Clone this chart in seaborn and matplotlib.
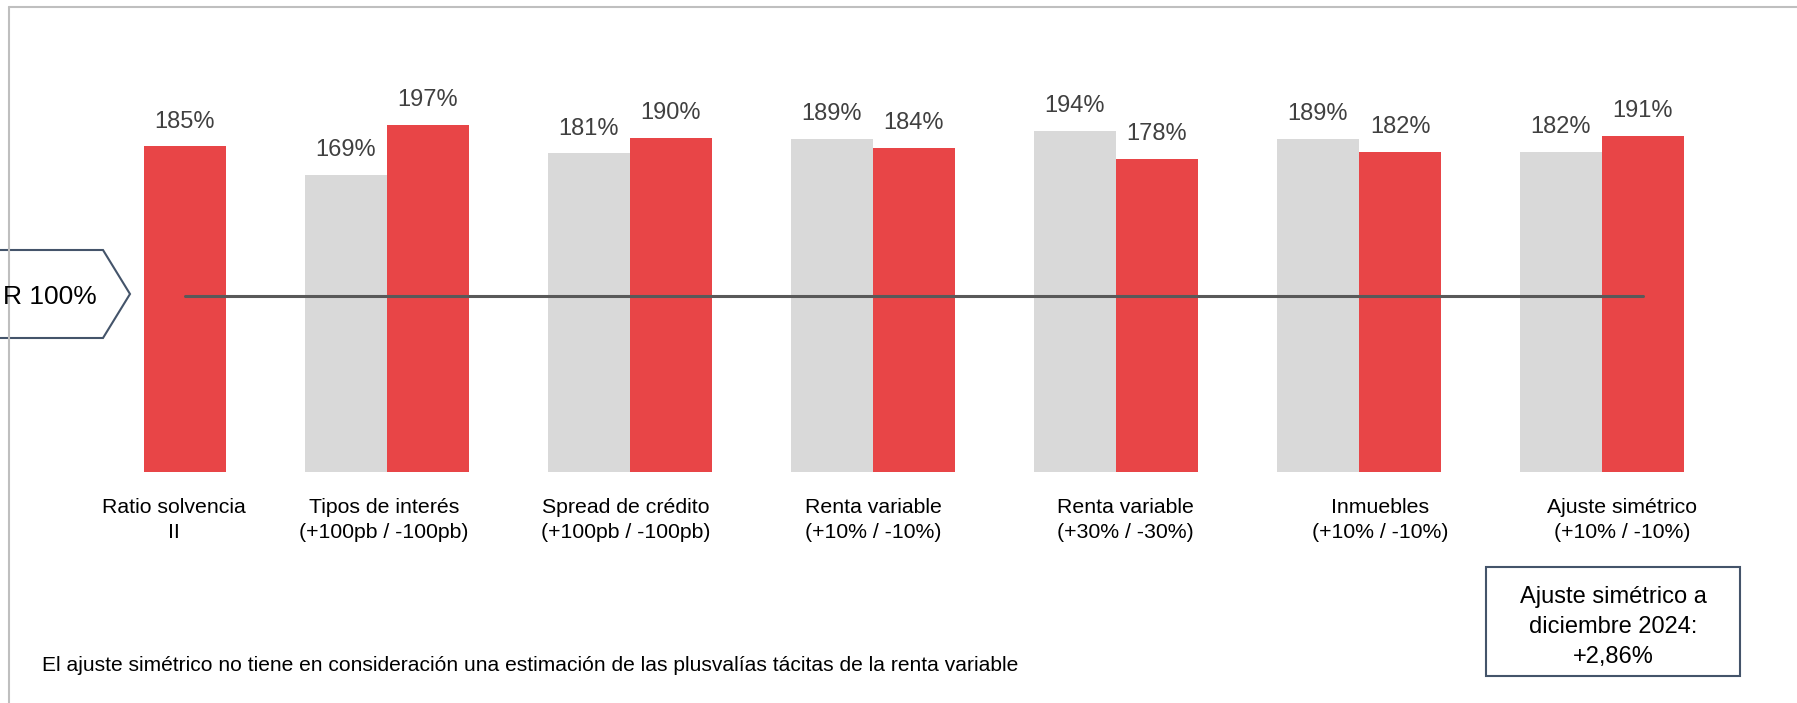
import matplotlib
matplotlib.use("Agg")
import matplotlib.pyplot as plt
import seaborn as sns
import pandas as pd
from matplotlib.patches import Polygon, Rectangle
from matplotlib.lines import Line2D

# Datos (ratio de solvencia II y sensibilidades)
categorias = [
    "Ratio solvencia\nII",
    "Tipos de interés\n(+100pb / -100pb)",
    "Spread de crédito\n(+100pb / -100pb)",
    "Renta variable\n(+10% / -10%)",
    "Renta variable\n(+30% / -30%)",
    "Inmuebles\n(+10% / -10%)",
    "Ajuste simétrico\n(+10% / -10%)",
]
escenario_alza = [None, 169, 181, 189, 194, 189, 182]   # barras grises
escenario_baja = [185, 197, 190, 184, 178, 182, 191]    # barras rojas
nivel_scr = 100
etiqueta_scr = "R 100%"

nota = "El ajuste simétrico no tiene en consideración una estimación de las plusvalías tácitas de la renta variable"
caja_texto = "Ajuste simétrico a\ndiciembre 2024:\n+2,86%"

rows = []
for cat, a, b in zip(categorias, escenario_alza, escenario_baja):
    if a is not None:
        rows.append({"categoria": cat, "escenario": "alza", "valor": a})
    rows.append({"categoria": cat, "escenario": "baja", "valor": b})
df = pd.DataFrame(rows)

GRIS = "#D9D9D9"
ROJO = "#E84547"
W, H = 1797, 703

sns.set_style("white")
plt.rcParams["font.family"] = ["Liberation Sans", "DejaVu Sans"]

fig = plt.figure(figsize=(W / 100, H / 100), dpi=100)
ax = fig.add_axes([0, 0, 1, 1])

# escala: 243 px por grupo, 1.76 px por punto porcentual, base en y=472 px
px_unit, x0 = 243, 144
px_pct, y0 = 1.76, 472


def ydata(py):
    return (y0 - py) / px_pct


def fig_xy(px, py):
    return px / W, 1 - py / H


bar_w = 82 / px_unit * 2
sns.barplot(data=df, x="categoria", y="valor", hue="escenario",
            order=categorias, hue_order=["alza", "baja"],
            palette=[GRIS, ROJO], saturation=1, width=bar_w,
            linewidth=0, legend=False, ax=ax)

for cont in ax.containers:
    ax.bar_label(cont, fmt="%.0f%%", padding=10, fontsize=17, color="#404040")

# linea del SCR 100% (del centro de la primera barra roja a la ultima)
ax.plot([bar_w / 4, len(categorias) - 1 + bar_w / 4], [nivel_scr, nivel_scr],
        color="#595959", lw=2.2, solid_capstyle="round", zorder=5)

# etiquetas de categorias
label_dx = [30, -3, -4, 0, 9, 21, 20]
for i, (cat, dx) in enumerate(zip(categorias, label_dx)):
    ax.text(i + dx / px_unit, ydata(498), cat, ha="center", va="top",
            fontsize=15.3, color="black", linespacing=1.42)

ax.set_xlim(-x0 / px_unit, (W - x0) / px_unit)
ax.set_ylim(ydata(H), ydata(0))
ax.set_axis_off()

# marco gris parcial
fig.add_artist(Line2D([9 / W, 9 / W], [0, 1 - 7 / H], color="#BFBFBF", lw=1.5,
                      transform=fig.transFigure))
fig.add_artist(Line2D([9 / W, 1], [1 - 7 / H, 1 - 7 / H], color="#BFBFBF", lw=1.5,
                      transform=fig.transFigure))

# flecha SCR 100%
pts = [fig_xy(-5, 250), fig_xy(103, 250), fig_xy(130, 294), fig_xy(103, 338), fig_xy(-5, 338)]
fig.add_artist(Polygon(pts, closed=True, facecolor="white", edgecolor="#44546A",
                       lw=1.5, transform=fig.transFigure))
fig.text(*fig_xy(97, 304), etiqueta_scr, ha="right", va="baseline", fontsize=19, color="black")

# nota al pie
fig.text(*fig_xy(42, 671), nota, ha="left", va="baseline", fontsize=15.1, color="black")

# caja ajuste simetrico
bx, by = fig_xy(1486, 676)
fig.add_artist(Rectangle((bx, by), (1740 - 1486) / W, (676 - 567) / H, facecolor="white",
                         edgecolor="#44546A", lw=1.5, transform=fig.transFigure))
fig.text(*fig_xy(1613, 627), caja_texto, ha="center", va="center", fontsize=17,
         color="black", linespacing=1.5, multialignment="center")

fig.savefig("out.png", dpi=100)
